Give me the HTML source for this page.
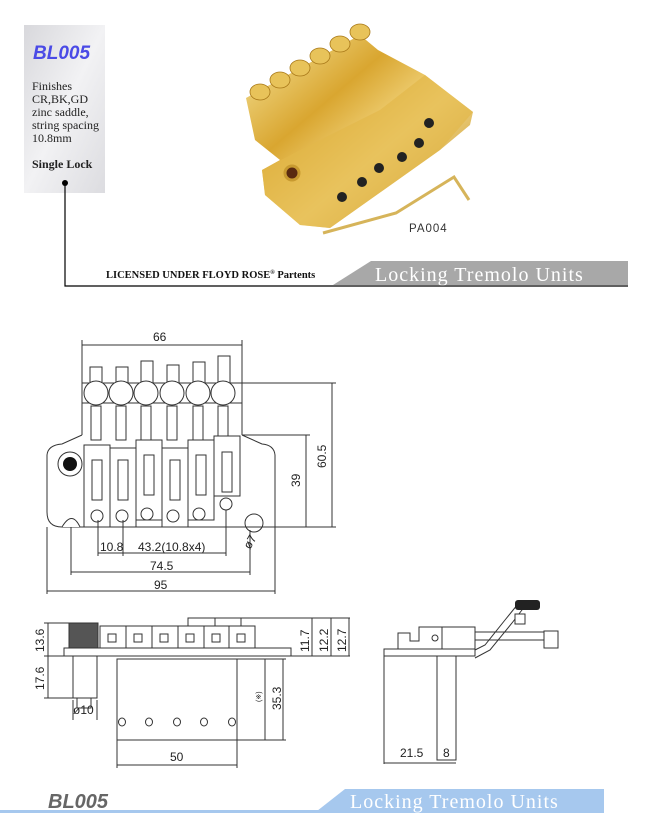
<!DOCTYPE html>
<html><head><meta charset="utf-8"><style>
html,body{margin:0;padding:0;background:#fff;}
svg{display:block;}
</style></head><body>
<svg width="650" height="814" viewBox="0 0 650 814" xmlns="http://www.w3.org/2000/svg" font-family="Liberation Sans, sans-serif">
<defs>
<linearGradient id="card" x1="0" y1="0" x2="1" y2="1">
<stop offset="0" stop-color="#d8d8dc"/><stop offset="0.5" stop-color="#f2f2f4"/><stop offset="1" stop-color="#dcdce0"/></linearGradient>
<linearGradient id="gold" x1="0" y1="0" x2="1" y2="1">
<stop offset="0" stop-color="#f7e7a0"/><stop offset="0.35" stop-color="#d9a630"/><stop offset="0.6" stop-color="#f6dc8a"/><stop offset="1" stop-color="#b37c14"/></linearGradient>
</defs>
<!-- top card -->
<rect x="24" y="25" width="81" height="168" fill="url(#card)"/>
<text x="33" y="59" font-size="19" font-weight="bold" font-style="italic" fill="#4a4ae6">BL005</text>
<g font-family="Liberation Serif, serif" font-size="12" fill="#222">
<text x="32" y="90">Finishes</text>
<text x="32" y="103">CR,BK,GD</text>
<text x="32" y="116">zinc saddle,</text>
<text x="32" y="129">string spacing</text>
<text x="32" y="142">10.8mm</text>
<text x="32" y="168" font-weight="bold">Single Lock</text>
</g>
<circle cx="65" cy="183" r="3" fill="#000"/>
<polyline points="65,183 65,286 628,286" fill="none" stroke="#000" stroke-width="1.2"/>
<polygon points="371,261 628,261 628,285 333,285" fill="#a8a8a8"/>
<text x="375" y="281" font-family="Liberation Serif, serif" font-size="20" letter-spacing="1" fill="#fff">Locking Tremolo Units</text>
<text x="106" y="278" font-family="Liberation Serif, serif" font-size="10.5" font-weight="bold" fill="#111">LICENSED UNDER FLOYD ROSE<tspan font-size="6" dy="-4">®</tspan><tspan dy="4"> Partents</tspan></text>

<!-- photo -->
<polygon points="246,98 360,35 378,50 425,75 473,112 470,125 440,150 330,228 300,225 265,195 262,170 280,160 255,140" fill="url(#gold)"/>
<polygon points="262,170 300,150 380,110 425,75 473,112 440,150 330,228 300,225 265,195" fill="#e3b84a" opacity="0.7"/>
<g fill="#e8c35a" stroke="#a87818" stroke-width="0.8">
<ellipse cx="260" cy="92" rx="10" ry="8"/><ellipse cx="280" cy="80" rx="10" ry="8"/><ellipse cx="300" cy="68" rx="10" ry="8"/>
<ellipse cx="320" cy="56" rx="10" ry="8"/><ellipse cx="340" cy="44" rx="10" ry="8"/><ellipse cx="360" cy="32" rx="10" ry="8"/>
</g>
<g fill="#222"><circle cx="429" cy="123" r="5"/><circle cx="419" cy="143" r="5"/><circle cx="402" cy="157" r="5"/><circle cx="379" cy="168" r="5"/><circle cx="362" cy="182" r="5"/><circle cx="342" cy="197" r="5"/></g>
<circle cx="292" cy="173" r="7" fill="#5a2a10" stroke="#c89a30" stroke-width="3"/>
<polyline points="323,233 396,213 454,177 469,200" fill="none" stroke="#d6b45a" stroke-width="3"/>
<text x="409" y="232" font-size="11.5" fill="#333" letter-spacing="1">PA004</text>

<!-- front view drawing -->
<g stroke="#333" stroke-width="1" fill="none">
<line x1="82" y1="345" x2="242" y2="345"/><line x1="82" y1="340" x2="82" y2="383"/><line x1="242" y1="340" x2="242" y2="383"/>
<rect x="82" y="383" width="160" height="20"/>
<g fill="#fff">
<rect x="90" y="367" width="12" height="16"/><rect x="116" y="367" width="12" height="16"/><rect x="141" y="361" width="12" height="22"/>
<rect x="167" y="365" width="12" height="18"/><rect x="193" y="362" width="12" height="21"/><rect x="218" y="356" width="12" height="27"/>
<circle cx="96" cy="393" r="12"/><circle cx="121" cy="393" r="12"/><circle cx="146" cy="393" r="12"/><circle cx="172" cy="393" r="12"/><circle cx="198" cy="393" r="12"/><circle cx="223" cy="393" r="12"/>
</g>
<g fill="#fff"><rect x="91" y="406" width="10" height="34"/><rect x="116" y="406" width="10" height="34"/><rect x="141" y="406" width="10" height="34"/><rect x="167" y="406" width="10" height="34"/><rect x="193" y="406" width="10" height="34"/><rect x="218" y="406" width="10" height="34"/></g>
<line x1="82" y1="403" x2="82" y2="435"/><line x1="242" y1="403" x2="242" y2="435"/>
<path d="M82 435 L62 444 Q48 445 47 455 L47 512 Q47 527 62 527 L275 527 L275 455 Q274 445 262 444 L242 435"/>
<path d="M62 527 Q72 510 80 527" fill="#fff"/>
<g fill="#fff">
<rect x="84" y="445" width="26" height="82"/><rect x="110" y="448" width="26" height="79"/><rect x="136" y="440" width="26" height="80"/>
<rect x="162" y="448" width="26" height="79"/><rect x="188" y="440" width="26" height="80"/><rect x="214" y="436" width="26" height="60"/>
</g>
<g fill="#fff"><rect x="92" y="460" width="10" height="40"/><rect x="118" y="460" width="10" height="40"/><rect x="144" y="455" width="10" height="40"/><rect x="170" y="460" width="10" height="40"/><rect x="196" y="455" width="10" height="40"/><rect x="222" y="452" width="10" height="40"/></g>
<g fill="#fff"><circle cx="97" cy="516" r="6"/><circle cx="122" cy="516" r="6"/><circle cx="147" cy="514" r="6"/><circle cx="173" cy="516" r="6"/><circle cx="199" cy="514" r="6"/><circle cx="226" cy="504" r="6"/></g>
<circle cx="70" cy="464" r="12"/>
<circle cx="254" cy="523" r="9" fill="#fff"/>
<line x1="240" y1="527" x2="336" y2="527"/><line x1="242" y1="435" x2="310" y2="435"/><line x1="242" y1="383" x2="336" y2="383"/>
<line x1="306" y1="435" x2="306" y2="527"/><line x1="332" y1="383" x2="332" y2="527"/>
<line x1="98" y1="520" x2="98" y2="556"/><line x1="123" y1="520" x2="123" y2="556"/><line x1="226" y1="510" x2="226" y2="556"/>
<line x1="98" y1="553" x2="226" y2="553"/>
<line x1="71" y1="527" x2="71" y2="575"/><line x1="250" y1="530" x2="250" y2="575"/><line x1="71" y1="572" x2="250" y2="572"/>
<line x1="47" y1="527" x2="47" y2="594"/><line x1="275" y1="527" x2="275" y2="594"/><line x1="47" y1="591" x2="275" y2="591"/>
</g>
<circle cx="70" cy="464" r="7" fill="#111"/>
<g font-size="12" fill="#222">
<text x="153" y="341">66</text>
<text x="100" y="551">10.8</text><text x="138" y="551">43.2(10.8x4)</text>
<text x="150" y="570">74.5</text><text x="154" y="589">95</text>
<text transform="translate(326,468) rotate(-90)">60.5</text>
<text transform="translate(300,487) rotate(-90)">39</text>
<text transform="translate(250,550) rotate(-60)">ø7</text>
</g>

<!-- side view -->
<g stroke="#333" stroke-width="1" fill="none">
<rect x="64" y="648" width="227" height="8"/>
<rect x="69" y="623" width="29" height="25" fill="#555"/>
<g fill="#fff"><rect x="100" y="626" width="26" height="22"/><rect x="126" y="626" width="26" height="22"/><rect x="152" y="626" width="26" height="22"/><rect x="178" y="626" width="26" height="22"/><rect x="204" y="626" width="25" height="22"/><rect x="229" y="626" width="26" height="22"/></g>
<g fill="#fff"><rect x="108" y="634" width="8" height="8"/><rect x="134" y="634" width="8" height="8"/><rect x="160" y="634" width="8" height="8"/><rect x="186" y="634" width="8" height="8"/><rect x="212" y="634" width="8" height="8"/><rect x="237" y="634" width="8" height="8"/></g>
<polyline points="188,626 188,618 350,618"/>
<line x1="215" y1="618" x2="215" y2="626"/><line x1="241" y1="618" x2="241" y2="626"/>
<line x1="44" y1="623" x2="69" y2="623"/><line x1="44" y1="656" x2="64" y2="656"/><line x1="44" y1="698" x2="73" y2="698"/>
<line x1="48" y1="623" x2="48" y2="698"/>
<line x1="291" y1="656" x2="350" y2="656"/>
<line x1="312" y1="618" x2="312" y2="656"/><line x1="331" y1="618" x2="331" y2="656"/><line x1="349" y1="618" x2="349" y2="656"/>
<rect x="73" y="656" width="24" height="42"/><rect x="77" y="698" width="14" height="10"/>
<line x1="73" y1="700" x2="73" y2="720"/><line x1="97" y1="700" x2="97" y2="720"/>
<rect x="117" y="659" width="120" height="81"/>
<g><ellipse cx="122" cy="722" rx="3.5" ry="4"/><ellipse cx="149" cy="722" rx="3.5" ry="4"/><ellipse cx="177" cy="722" rx="3.5" ry="4"/><ellipse cx="204" cy="722" rx="3.5" ry="4"/><ellipse cx="232" cy="722" rx="3.5" ry="4"/></g>
<line x1="237" y1="659" x2="286" y2="659"/><line x1="237" y1="740" x2="286" y2="740"/>
<line x1="265" y1="659" x2="265" y2="740"/><line x1="283" y1="659" x2="283" y2="740"/>
<line x1="117" y1="740" x2="117" y2="768"/><line x1="237" y1="740" x2="237" y2="768"/><line x1="117" y1="765" x2="237" y2="765"/>
</g>
<g font-size="12" fill="#222">
<text transform="translate(44,652) rotate(-90)">13.6</text>
<text transform="translate(44,690) rotate(-90)">17.6</text>
<text transform="translate(309,652) rotate(-90)">11.7</text>
<text transform="translate(328,652) rotate(-90)">12.2</text>
<text transform="translate(346,652) rotate(-90)">12.7</text>
<text transform="translate(281,710) rotate(-90)">35.3</text>
<text transform="translate(261,702) rotate(-90)" font-size="7">(※)</text>
<text x="73" y="714">ø10</text><text x="170" y="761">50</text>
<text x="400" y="757">21.5</text><text x="443" y="757">8</text>
</g>

<!-- right view -->
<g stroke="#333" stroke-width="1" fill="none">
<rect x="384" y="649" width="91" height="7"/>
<polyline points="398,649 398,633 410,633 410,641 419,641 419,627 475,627 475,649"/>
<circle cx="435" cy="638" r="3"/><line x1="442" y1="627" x2="442" y2="649"/>
<polyline points="475,658 490,650 512,623 525,606"/><polyline points="475,650 485,645 505,620 518,604"/>
<rect x="475" y="632" width="71" height="8"/><rect x="544" y="631" width="14" height="17" fill="#fff"/>
<rect x="515" y="614" width="10" height="10" fill="#fff"/>
<rect x="437" y="656" width="19" height="104"/>
<line x1="384" y1="656" x2="384" y2="764"/><line x1="384" y1="763" x2="456" y2="763"/>
</g>
<rect x="515" y="600" width="25" height="10" rx="3" fill="#222"/>

<!-- bottom banner -->
<polygon points="345,789 604,789 604,811 317,811" fill="#a6c8ee"/>
<rect x="0" y="810" width="604" height="3" fill="#a6c8ee"/>
<text x="350" y="808" font-family="Liberation Serif, serif" font-size="20" letter-spacing="1" fill="#fff">Locking Tremolo Units</text>
<text x="48" y="808" font-size="20" font-weight="bold" font-style="italic" fill="#666">BL005</text>
</svg>
</body></html>
